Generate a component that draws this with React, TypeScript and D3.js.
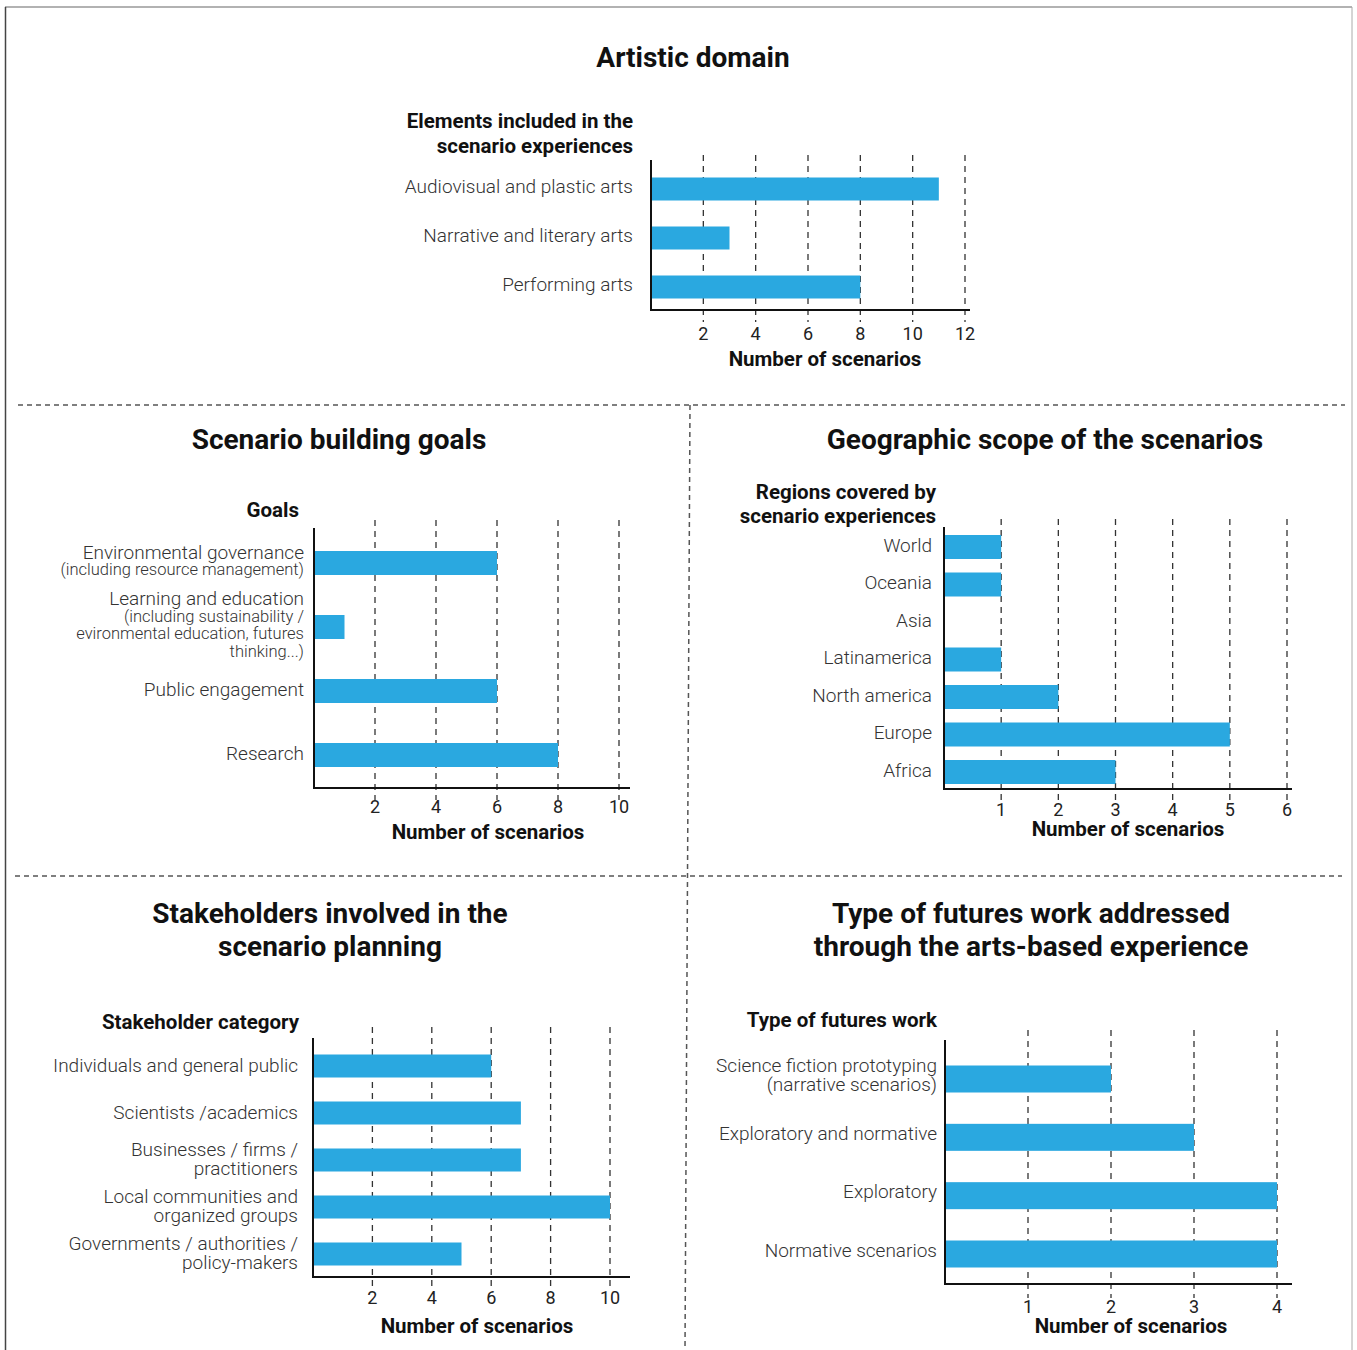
import React from 'react';
import * as d3 from 'd3';

// ---- data ----
const artisticCategories = [['Audiovisual and plastic arts'], ['Narrative and literary arts'], ['Performing arts']];
const artisticValues = [11, 3, 8];
const artisticTicks = [2, 4, 6, 8, 10, 12];

const goalCategories = [
  ['Environmental governance', '(including resource management)'],
  ['Learning and education', '(including sustainability /', 'evironmental education, futures', 'thinking...)'],
  ['Public engagement'],
  ['Research'],
];
const goalValues = [6, 1, 6, 8];
const goalTicks = [2, 4, 6, 8, 10];

const regionCategories = [['World'], ['Oceania'], ['Asia'], ['Latinamerica'], ['North america'], ['Europe'], ['Africa']];
const regionValues = [1, 1, 0, 1, 2, 5, 3];
const regionTicks = [1, 2, 3, 4, 5, 6];

const stakeholderCategories = [
  ['Individuals and general public'],
  ['Scientists /academics'],
  ['Businesses / firms /', 'practitioners'],
  ['Local communities and', 'organized groups'],
  ['Governments / authorities /', 'policy-makers'],
];
const stakeholderValues = [6, 7, 7, 10, 5];
const stakeholderTicks = [2, 4, 6, 8, 10];

const futuresCategories = [
  ['Science fiction prototyping', '(narrative scenarios)'],
  ['Exploratory and normative'],
  ['Exploratory'],
  ['Normative scenarios'],
];
const futuresValues = [2, 3, 4, 4];
const futuresTicks = [1, 2, 3, 4];

const BLUE = '#2AA8E0';
const FONT = 'Roboto, "Noto Sans", sans-serif';

interface Layout {
  x0: number; x1: number; max: number;
  yFirst: number; yLast: number; barH: number;
  axisTop: number; axisY: number; axisRight: number;
  gridTop: number; gridBottom: number;
  labelX: number; labelDy: number; subSize?: number; lineGap: number;
  tickY: number; axisTitleX: number; axisTitleY: number;
  header: string[]; headerX: number; headerY: number[];
}

const BarPanel: React.FC<{ cats: string[][]; values: number[]; ticks: number[]; L: Layout }> = ({ cats, values, ticks, L }) => {
  const x = d3.scaleLinear().domain([0, L.max]).range([L.x0, L.x1]);
  const y = d3.scalePoint<number>().domain(cats.map((_, i) => i)).range([L.yFirst, L.yLast]);

  return (
    <g>
      {L.header.map((h, i) => (
        <text key={h} x={L.headerX} y={L.headerY[i]} textAnchor="end" dominantBaseline="central"
          fontSize={20.5} fontWeight={700} fill="#111">{h}</text>
      ))}

      {/* dashed gridlines */}
      {ticks.map(t => (
        <line key={t} x1={x(t)} x2={x(t)} y1={L.gridTop} y2={L.gridBottom}
          stroke="#333" strokeWidth={1.3} strokeDasharray="6,5" />
      ))}

      {values.map((v, i) => (
        v > 0 ? <rect key={i} x={x(0)} y={(y(i) as number) - L.barH / 2} width={x(v) - x(0)} height={L.barH} fill={BLUE} /> : null
      ))}

      {/* axes */}
      <line x1={L.x0} x2={L.x0} y1={L.axisTop} y2={L.axisY + 1} stroke="#111" strokeWidth={2} />
      <line x1={L.x0 - 1} x2={L.axisRight} y1={L.axisY} y2={L.axisY} stroke="#111" strokeWidth={2} />

      {ticks.map(t => (
        <text key={t} x={x(t)} y={L.tickY} textAnchor="middle" dominantBaseline="central"
          fontSize={18} fill="#222">{t}</text>
      ))}
      <text x={L.axisTitleX} y={L.axisTitleY} textAnchor="middle" dominantBaseline="central"
        fontSize={20.5} fontWeight={700} fill="#111">Number of scenarios</text>

      {/* category labels */}
      {cats.map((lines, i) => {
        const cy = (y(i) as number) + L.labelDy - ((lines.length - 1) * L.lineGap) / 2;
        return lines.map((ln, j) => (
          <text key={`${i}-${j}`} x={L.labelX} y={cy + j * L.lineGap} textAnchor="end" dominantBaseline="central"
            fontSize={j > 0 && L.subSize ? L.subSize : 19} fontWeight={300} fill="#333">{ln}</text>
        ));
      })}
    </g>
  );
};

const artisticLayout: Layout = {
  x0: 651, x1: 965, max: 12, yFirst: 189, yLast: 287, barH: 23,
  axisTop: 160, axisY: 310, axisRight: 970, gridTop: 155, gridBottom: 322,
  labelX: 633, labelDy: -3, lineGap: 18, tickY: 333, axisTitleX: 825, axisTitleY: 359,
  header: ['Elements included in the', 'scenario experiences'], headerX: 633, headerY: [121, 146],
};
const goalLayout: Layout = {
  x0: 314, x1: 619, max: 10, yFirst: 563, yLast: 755, barH: 24,
  axisTop: 528, axisY: 788, axisRight: 630, gridTop: 520, gridBottom: 800,
  labelX: 304, labelDy: -2, subSize: 16.5, lineGap: 17.5, tickY: 806, axisTitleX: 488, axisTitleY: 832,
  header: ['Goals'], headerX: 299, headerY: [510],
};
const regionLayout: Layout = {
  x0: 944, x1: 1287, max: 6, yFirst: 547, yLast: 772, barH: 24,
  axisTop: 527, axisY: 789, axisRight: 1292, gridTop: 519, gridBottom: 800,
  labelX: 932, labelDy: -2, lineGap: 18, tickY: 809, axisTitleX: 1128, axisTitleY: 829,
  header: ['Regions covered by', 'scenario experiences'], headerX: 936, headerY: [492, 516],
};
const stakeholderLayout: Layout = {
  x0: 313, x1: 610, max: 10, yFirst: 1066, yLast: 1254, barH: 23,
  axisTop: 1038, axisY: 1277, axisRight: 630, gridTop: 1027, gridBottom: 1290,
  labelX: 298, labelDy: -1, lineGap: 19, tickY: 1297, axisTitleX: 477, axisTitleY: 1326,
  header: ['Stakeholder category'], headerX: 299, headerY: [1022],
};
const futuresLayout: Layout = {
  x0: 945, x1: 1277, max: 4, yFirst: 1079, yLast: 1254, barH: 27,
  axisTop: 1040, axisY: 1284, axisRight: 1292, gridTop: 1030, gridBottom: 1298,
  labelX: 937, labelDy: -4, lineGap: 18.5, tickY: 1306, axisTitleX: 1131, axisTitleY: 1326,
  header: ['Type of futures work'], headerX: 937, headerY: [1020],
};

const Title: React.FC<{ lines: string[]; x: number; y: number }> = ({ lines, x, y }) => (
  <g>
    {lines.map((l, i) => (
      <text key={l} x={x} y={y + i * 33} textAnchor="middle" dominantBaseline="central"
        fontSize={28} fontWeight={700} fill="#111">{l}</text>
    ))}
  </g>
);

export default function App() {
  const W = 1357, H = 1350;
  return (
    <svg width={W} height={H} style={{ position: 'absolute', left: 0, top: 0, background: '#fff' }} fontFamily={FONT}>
      <rect width={W} height={H} fill="#fff" />
      {/* outer frame */}
      <line x1={5} x2={1352} y1={7} y2={7} stroke="#999" strokeWidth={1.5} />
      <line x1={5.5} x2={5.5} y1={7} y2={H} stroke="#444" strokeWidth={1.5} />
      <line x1={1352} x2={1352} y1={7} y2={H} stroke="#aaa" strokeWidth={1} />

      {/* dividers */}
      <line x1={18} x2={1345} y1={405} y2={405} stroke="#555" strokeWidth={1.5} strokeDasharray="5,4" />
      <line x1={15} x2={1342} y1={876} y2={876} stroke="#555" strokeWidth={1.5} strokeDasharray="5,4" />
      <line x1={690} x2={685} y1={405} y2={H} stroke="#555" strokeWidth={1.5} strokeDasharray="5,4" />

      <Title lines={['Artistic domain']} x={693} y={57} />
      <Title lines={['Scenario building goals']} x={339} y={439} />
      <Title lines={['Geographic scope of the scenarios']} x={1045} y={439} />
      <Title lines={['Stakeholders involved in the', 'scenario planning']} x={330} y={913} />
      <Title lines={['Type of futures work addressed', 'through the arts-based experience']} x={1031} y={913} />

      <BarPanel cats={artisticCategories} values={artisticValues} ticks={artisticTicks} L={artisticLayout} />
      <BarPanel cats={goalCategories} values={goalValues} ticks={goalTicks} L={goalLayout} />
      <BarPanel cats={regionCategories} values={regionValues} ticks={regionTicks} L={regionLayout} />
      <BarPanel cats={stakeholderCategories} values={stakeholderValues} ticks={stakeholderTicks} L={stakeholderLayout} />
      <BarPanel cats={futuresCategories} values={futuresValues} ticks={futuresTicks} L={futuresLayout} />
    </svg>
  );
}
